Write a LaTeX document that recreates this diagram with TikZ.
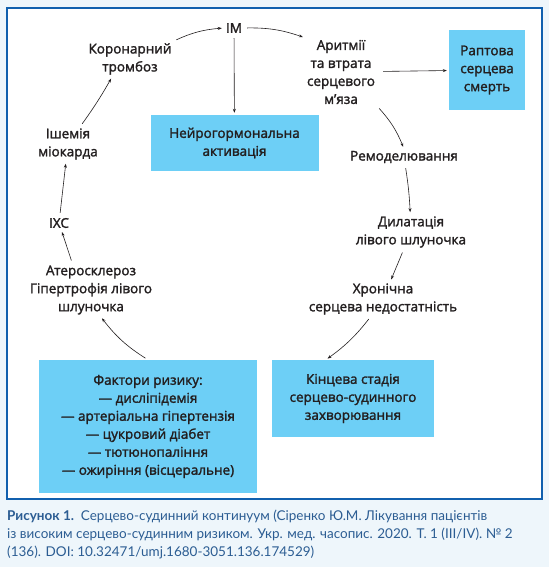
\documentclass[tikz,border=0pt]{standalone}
\usepackage{fontspec}
\setmainfont{Open Sans}[FakeBold=1.8]
\newfontfamily\capfont{Lato}
\usetikzlibrary{positioning}
\usetikzlibrary{arrows.meta}

\definecolor{pagebl}{HTML}{EEF6FB}
\definecolor{framebl}{HTML}{1160AE}
\definecolor{boxbl}{HTML}{6DCFF6}
\definecolor{ink}{HTML}{231F20}
\definecolor{capbl}{HTML}{2C5D93}

\begin{document}
\begin{tikzpicture}[x=1pt,y=-1pt,
			lbl/.style={align=center,inner sep=2pt,text=ink,font=\fontsize{13.5}{18}\selectfont},
			box/.style={lbl,fill=boxbl},
			arr/.style={-{Stealth[length=4pt,width=3pt]},ink,line width=0.6pt,shorten <=3pt,shorten >=2pt},
			captext/.style={align=left,inner sep=0pt,text=capbl,font=\capfont\fontsize{13.5}{18}\selectfont}]
			\useasboundingbox (0,0) rectangle (549,567);
			\fill[pagebl] (0,0) rectangle (549,567);
			\draw[framebl,line width=2pt,fill=white] (7,8) rectangle (542,499);
			% cycle labels
			\node[lbl] (im) at (234,28) {ІМ};
			\node[lbl] (kor) at (130,59) {Коронарний \\ тромбоз};
			\node[lbl] (ar) at (341,72) {Аритмії \\ та втрата \\ серцевого \\ м’яза};
			\node[lbl] (remod) at (404,157) {Ремоделювання};
			\node[lbl] (dil) at (411,232) {Дилатація \\ лівого шлуночка};
			\node[lbl] (chron) at (383,299) {Хронічна \\ серцева недостатність};
			\node[lbl] (ater) at (91,290) {Атеросклероз \\ Гіпертрофія лівого \\ шлуночка};
			\node[lbl] (ikhs) at (59,223) {ІХС};
			\node[lbl] (isch) at (68,144) {Ішемія \\ міокарда};
			% boxes
			\node[box,minimum width=76pt,minimum height=80pt] (rapt) at (487,70) {Раптова \\ серцева \\ смерть};
			\node[box,minimum width=168pt,minimum height=56pt] (neuro) at (234.5,143) {Нейрогормональна \\ активація};
			\node[box,minimum width=218pt,minimum height=133pt] (fakt) at (148,426.5) {Фактори ризику: \\ — дисліпідемія \\ — артеріальна гіпертензія \\ — цукровий діабет \\ — тютюнопаління \\ — ожиріння (вісцеральне)};
			\node[box,minimum width=162pt,minimum height=77pt] (kin) at (353,398.5) {Кінцева стадія \\ серцево-судинного \\ захворювання};
			% caption
			\node[captext,anchor=north west] (capt) at (7,510) {\textbf{Рисунок 1.}\ \ Серцево-судинний континуум (Сіренко Ю.М. Лікування пацієнтів \\ із високим серцево-судинним ризиком. Укр. мед. часопис. 2020. Т. 1 (III/IV). № 2 \\ (136). DOI: 10.32471/umj.1680-3051.136.174529)};
			% arrows
			\draw[arr] (kor.north east) to[bend left=10] (im.west);
			\draw[arr] (im.east) to[bend left=10] (ar.north west);
			\draw[arr] (im) -- (neuro);
			\draw[arr,shorten <=6pt] (ar) -- (rapt);
			\draw[arr] (ar.south east) to[bend left=10] (remod.north);
			\draw[arr] (remod) to[bend left=3] (dil);
			\draw[arr] (dil) -- (chron);
			\draw[arr] (chron.235) to[bend left=8] (kin.125);
			\draw[arr] (fakt.north) to[bend left=10] (ater.290);
			\draw[arr] (ater.125) -- (ikhs);
			\draw[arr] (ikhs) -- (isch);
			\draw[arr] (isch.55) to[bend right=3] (kor.225);
		\end{tikzpicture}
\end{document}
